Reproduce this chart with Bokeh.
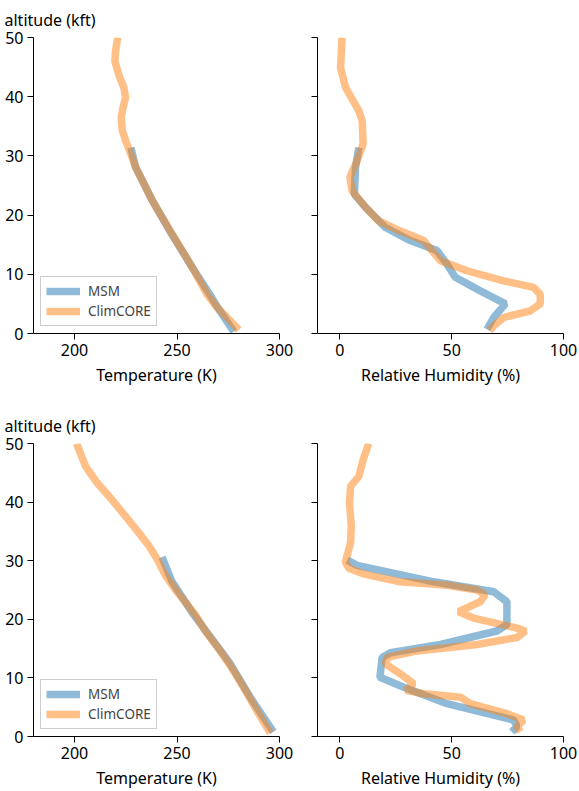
from bokeh.plotting import figure
from bokeh.layouts import column, row
from bokeh.models import Title, Legend, LegendItem, Range1d
from bokeh.embed import file_html
from bokeh.resources import INLINE

# ---- data ----
# Top row: temperature profiles
tl_clim_alt = [50, 47.7, 46, 43.7, 41.5, 39.9, 38.2, 36.5, 34.3, 32.6, 31.2, 28.1, 22.5, 16.8, 11.2, 6.6, 4.4, 0.6]
tl_clim_val = [221.1, 220, 219.7, 221.6, 224.1, 224.9, 223.7, 222.8, 223.3, 224.9, 226.5, 229.8, 237.9, 247.6, 257.4, 264.7, 269.6, 280.2]
tl_msm_alt = [31.4, 28.1, 22.5, 16.8, 11.2, 6.6, 4.4, 0.3]
tl_msm_val = [227.5, 229.8, 237.9, 247.4, 257.4, 266.0, 269.8, 277.7]

# Top row: relative humidity profiles
tr_clim_alt = [50, 44.9, 41.6, 37.6, 35.9, 32, 29.2, 26.4, 24.1, 21.3, 19, 17.3, 15.7, 14, 12.3, 10.6, 8.9, 7.8, 6.6, 5, 3.8, 2.7, 1.3, 0.5]
tr_clim_val = [1.0, 0.3, 2.5, 8.5, 10, 10.4, 7.7, 4.5, 5.5, 11.5, 17.4, 27, 37.5, 41.2, 45, 56.8, 73.2, 86.6, 89.6, 89.6, 85, 73.2, 68.8, 67]
tr_msm_alt = [31.4, 28, 23.5, 21.3, 17.9, 15.7, 14, 11.7, 9.5, 7.2, 5, 2.7, 0.7]
tr_msm_val = [8.5, 7, 6.5, 11.5, 20.4, 31.5, 43.5, 47.9, 51.6, 62.8, 74, 68.8, 65.8]

# Bottom row: temperature profiles
bl_clim_alt = [50, 46.1, 43.3, 40.4, 37.6, 34.8, 32.6, 30.3, 27.5, 24.7, 20.8, 18, 14.6, 11.2, 7.9, 3.9, 0.6]
bl_clim_val = [201, 205.4, 211, 218.3, 224.8, 231.3, 236.2, 240.3, 244.3, 250, 258.9, 263.8, 271.1, 277.6, 283.3, 289.8, 295.5]
bl_msm_alt = [30.6, 26.4, 20.8, 12.4, 6.7, 0.8]
bl_msm_val = [242.7, 247.6, 258.1, 276, 285.7, 297]

# Bottom row: relative humidity profiles
br_clim_alt = [50, 47.2, 44.4, 42.7, 39.9, 36, 33.1, 29.8, 28.7, 27.8, 26.4, 25.8, 25, 24.2, 23, 21.3, 20.2, 18.5, 18, 16.9, 15.7, 14.6, 13.5, 12.4, 10.7, 9, 7.9, 7.3, 6.7, 5.6, 3.9, 2.8, 1.7, 0.8]
br_clim_val = [12.9, 10.4, 8.5, 4.8, 4.3, 5.1, 4.8, 2.5, 4, 10, 27, 48, 61.3, 65, 62.8, 53.1, 59.8, 79.2, 82.9, 79.2, 61.3, 34.5, 21.1, 20.4, 27, 33, 29.6, 37.5, 53.9, 58.3, 74.7, 82.1, 79.2, 80.7]
br_msm_alt = [30.1, 29.2, 26.4, 24.7, 23, 19.1, 18, 15.7, 14.3, 13.5, 10.1, 8.4, 5.6, 2.8, 1.7, 0.8]
br_msm_val = [3.3, 7.7, 42, 68.8, 74.7, 74.7, 70.2, 45, 22.6, 18.9, 17.9, 28.6, 47.9, 77.7, 79.2, 76.9]

y_ticks = [0, 10, 20, 30, 40, 50]
temp_ticks = [200, 250, 300]
rh_ticks = [0, 50, 100]

MSM_COLOR = "#1f77b4"
CLIM_COLOR = "#ff7f0e"
FONT = "Noto Sans"


def make_panel(width, height, xr, xticks, xlabel, left, top, bottom, right,
               show_ylabels, title, data, legend):
    p = figure(width=width, height=height, output_backend="svg", toolbar_location=None,
               x_range=Range1d(*xr), y_range=Range1d(0, 50),
               min_border_left=left, min_border_top=top, min_border_bottom=bottom,
               min_border_right=right)
    p.outline_line_color = None
    p.grid.visible = False
    p.background_fill_color = "white"
    for ax in (p.xaxis[0], p.yaxis[0]):
        ax.major_tick_in = 0
        ax.major_tick_out = 6
        ax.minor_tick_line_color = None
        ax.axis_line_color = "black"
        ax.major_tick_line_color = "black"
        ax.major_label_text_font = FONT
        ax.major_label_text_font_size = "16px"
        ax.major_label_text_color = "black"
        ax.major_label_standoff = 4
    p.xaxis.ticker = xticks
    p.yaxis.ticker = y_ticks
    p.xaxis.axis_label = xlabel
    p.xaxis.axis_label_text_font = FONT
    p.xaxis.axis_label_text_font_size = "16px"
    p.xaxis.axis_label_text_font_style = "normal"
    p.xaxis.axis_label_text_color = "black"
    p.xaxis.axis_label_standoff = 5
    if not show_ylabels:
        p.yaxis.major_label_overrides = {t: "" for t in y_ticks}
        p.yaxis.major_label_standoff = 0
    if title:
        t = Title(text=title, align="left", text_font=FONT, text_font_size="16px",
                  text_font_style="normal", text_color="black", offset=-29, standoff=13)
        p.add_layout(t, "above")
    msm_x, msm_y, clim_x, clim_y = data
    r1 = p.line(msm_x, msm_y, line_color=MSM_COLOR, line_alpha=0.5, line_width=7.5)
    r2 = p.line(clim_x, clim_y, line_color=CLIM_COLOR, line_alpha=0.5, line_width=7.5)
    if legend:
        lg = Legend(items=[LegendItem(label="MSM", renderers=[r1]),
                           LegendItem(label="ClimCORE", renderers=[r2])],
                    location="bottom_left", label_text_font=FONT,
                    label_text_font_size="13.5px", border_line_color="#cccccc",
                    border_line_alpha=1, glyph_width=34, glyph_height=16,
                    label_standoff=8, spacing=2, padding=5, margin=7,
                    background_fill_alpha=0.8)
        p.add_layout(lg)
    return p


TOP_H = 400
BOT_H = 391

tl = make_panel(296, TOP_H, (180, 300), temp_ticks, "Temperature (K)", 33, 37, 67, 17,
                True, "altitude (kft)", (tl_msm_val, tl_msm_alt, tl_clim_val, tl_clim_alt), True)
tr = make_panel(281, TOP_H, (-10, 100), rh_ticks, "Relative Humidity (%)", 21, 37, 67, 14,
                False, None, (tr_msm_val, tr_msm_alt, tr_clim_val, tr_clim_alt), False)
bl = make_panel(296, BOT_H, (180, 300), temp_ticks, "Temperature (K)", 33, 43, 51, 17,
                True, "altitude (kft)", (bl_msm_val, bl_msm_alt, bl_clim_val, bl_clim_alt), True)
br = make_panel(281, BOT_H, (-10, 100), rh_ticks, "Relative Humidity (%)", 21, 43, 51, 14,
                False, None, (br_msm_val, br_msm_alt, br_clim_val, br_clim_alt), False)

layout = column(row(tl, tr), row(bl, br))
open("out.html", "w").write(file_html(layout, INLINE))
